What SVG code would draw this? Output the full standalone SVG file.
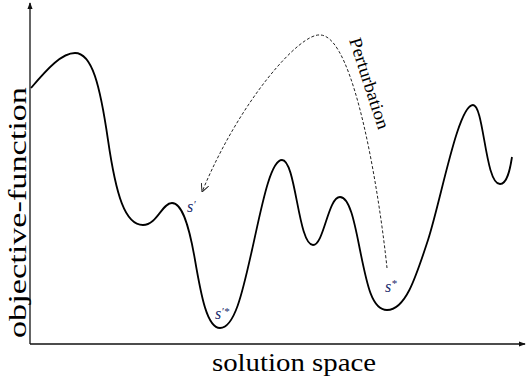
<svg xmlns="http://www.w3.org/2000/svg" width="528" height="376" viewBox="0 0 528 376">
<style>
.axis{stroke:#111;stroke-width:1.3;fill:none}
.curve{stroke:#000;stroke-width:1.8;fill:none}
.pert{stroke:#222;stroke-width:1;fill:none;stroke-dasharray:3,2}
.lbl{font-family:'Liberation Serif','Times New Roman','DejaVu Serif',serif;fill:#000}
.s{font-family:'Liberation Serif','Times New Roman','DejaVu Serif',serif;font-style:italic;font-size:16px;fill:#1a2a6c}
.sup{font-size:11px}
</style>
<defs>
<marker id="ah" viewBox="0 0 8 8" refX="8" refY="4" markerWidth="8" markerHeight="8" markerUnits="userSpaceOnUse" orient="auto">
<path d="M0,0 L8,4 L0,8" fill="none" stroke="#222" stroke-width="1"/>
</marker>
<marker id="axh" viewBox="0 0 8 8" refX="7" refY="4" markerWidth="7" markerHeight="7" markerUnits="userSpaceOnUse" orient="auto">
<path d="M0,1 L8,4 L0,7 Z" fill="#111"/>
</marker>
</defs>
<g id="axes">
<path class="axis" d="M30,344 L30,3" marker-end="url(#axh)"/>
<path class="axis" d="M30,344 L525,344" marker-end="url(#axh)"/>
<text class="lbl" x="26" y="338" font-size="26" textLength="251" lengthAdjust="spacingAndGlyphs" transform="rotate(-90 26 338)">objective-function</text>
<text class="lbl" x="212" y="371" font-size="25" textLength="164" lengthAdjust="spacingAndGlyphs">solution space</text>
</g>
<g id="landscape">
<path class="curve" d="M31,88 C48,68 62,53 75,53 C92,53 100,85 108,140 C116,195 125,225 143,225 C157,225 162,203 172,203 C182,203 189,225 195,260 C201,295 207,328 220,328 C235,328 243,290 252,250 C261,210 270,160 282,160 C296,160 298,245 313,245 C324,245 328,197 340,197 C350,197 355,225 360,250 C367,285 372,310 387,310 C405,310 415,280 428,240 C441,200 458,105 473,105 C484,105 485,184 500,184 C507,184 510,170 512,157"/>
</g>
<g id="connectors">
<path class="pert" d="M387,268 C380,200 355,35 320,35 C300,33 240,100 202,192" marker-end="url(#ah)"/>
</g>
<g id="perturbation-label">
<text class="lbl" x="349" y="40" font-size="18" textLength="95" lengthAdjust="spacingAndGlyphs" transform="rotate(72 349 40)">Perturbation</text>
</g>
<g id="s-prime">
<text class="s" x="187" y="212">s<tspan class="sup" dy="-4">′</tspan></text>
</g>
<g id="s-prime-star">
<text class="s" x="215" y="319">s<tspan class="sup" dy="-4">′*</tspan></text>
</g>
<g id="s-star">
<text class="s" x="385" y="292">s<tspan class="sup" dy="-5">*</tspan></text>
</g>
</svg>
